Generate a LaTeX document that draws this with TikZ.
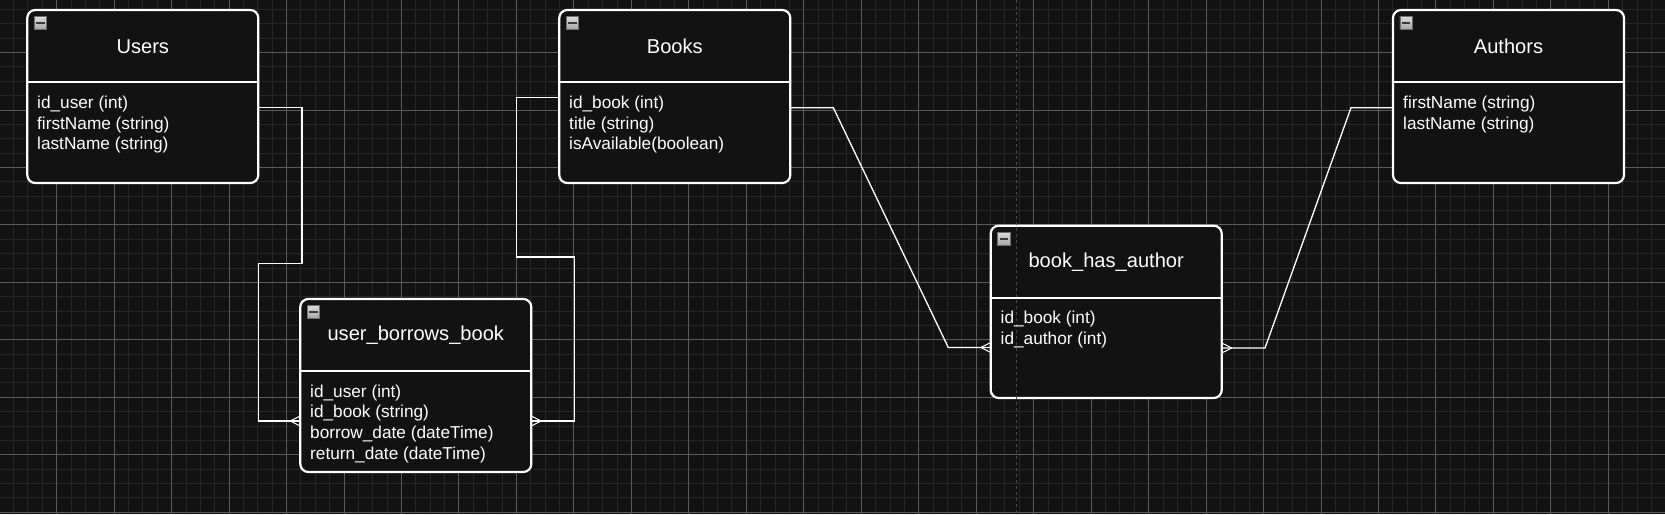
\documentclass[tikz,border=0pt]{standalone}
\usepackage{fontspec}
\setmainfont{Liberation Sans}
\definecolor{bg}{HTML}{121212}
\definecolor{gmin}{HTML}{262626}
\definecolor{gmaj}{HTML}{5A5A5A}
\definecolor{pgbrk}{HTML}{4A4A4A}
\definecolor{icbrd}{HTML}{6E6E6E}
\definecolor{ictop}{HTML}{DADADA}
\definecolor{icbot}{HTML}{A6A6A6}
\definecolor{icbar}{HTML}{3A3A3A}
\tikzset{
  erbox/.style={draw=white, line width=2.2pt, rounded corners=8pt, fill=bg,
    minimum width=231pt, minimum height=173pt, anchor=north west, inner sep=0pt, outer sep=0pt},
  sepline/.style={draw=white, line width=2pt},
  ertitle/.style={text=white, font=\fontsize{20.1}{24}\selectfont, inner sep=0pt},
  erfield/.style={text=white, font=\fontsize{17.24}{20.7}\selectfont, inner sep=0pt,
    anchor=west, text height=12.6pt, text depth=3.6pt},
  conn/.style={draw=white, line width=1.3pt},
  crowline/.style={draw=white, line width=1pt},
  gridminor/.style={draw=gmin, line width=1pt},
  gridmajor/.style={draw=gmaj, line width=1pt},
  pagebreak/.style={draw=pgbrk, line width=1.2pt, dash pattern=on 3pt off 3pt},
  ericon/.style={minimum size=12.5pt, inner sep=0pt, outer sep=0pt, draw=icbrd, line width=0.8pt,
    top color=ictop, bottom color=icbot,
    path picture={\fill[icbar] ([xshift=2pt,yshift=-1.1pt]path picture bounding box.west) rectangle ([xshift=-2pt,yshift=1.1pt]path picture bounding box.east);}},
  erManyL/.pic={\draw[crowline] (-10,0) -- (0,5) (-10,0) -- (0,-5);},
  erManyR/.pic={\draw[crowline] (10,0) -- (0,5) (10,0) -- (0,-5);}
}
\begin{document}
\begin{tikzpicture}[x=1pt,y=-1pt]
\useasboundingbox (0,0) rectangle (1665,514);
\fill[bg] (0,0) rectangle (1665,514);
% grid
\foreach \i in {0,...,116} \draw[gridminor] ({-0.77+14.3675*\i},0) -- ({-0.77+14.3675*\i},514);
\foreach \j in {0,...,36} \draw[gridminor] (0,{-4.94+14.3675*\j}) -- (1665,{-4.94+14.3675*\j});
\foreach \i in {0,...,29} \draw[gridmajor] ({-0.77+57.47*\i},0) -- ({-0.77+57.47*\i},514);
\foreach \j in {0,...,9} \draw[gridmajor] (0,{-4.94+57.47*\j}) -- (1665,{-4.94+57.47*\j});

% boxes
\node[erbox] (users) at (27.3,10) {};
\node[erbox] (books) at (559.3,10) {};
\node[erbox] (authors) at (1393,10) {};
\node[erbox] (ubb) at (300.3,299) {};
\node[erbox, minimum height=172.3pt] (bha) at (990.7,225.7) {};

% connectors
\draw[conn] (users.east |- 0,107.7) -- (302,107.7) -- (302,263.4) -- (258.3,263.4) -- (258.3,421) -- (ubb.west |- 0,421);
\draw[conn] (books.west |- 0,97.3) -- (516.7,97.3) -- (516.7,257) -- (574.3,257) -- (574.3,421) -- (ubb.east |- 0,421);
\draw[conn] (books.east |- 0,107.7) -- (833.3,107.7) -- (948.3,347.5) -- (bha.west |- 0,347.5);
\draw[conn] (authors.west |- 0,107.7) -- (1351,107.7) -- (1265,348) -- (bha.east |- 0,348);
\pic at (ubb.west |- 0,421) {erManyL};
\pic at (ubb.east |- 0,421) {erManyR};
\pic at (bha.west |- 0,347.5) {erManyL};
\pic at (bha.east |- 0,348) {erManyR};

% header separators
\draw[sepline] (users.west |- 0,82) -- (users.east |- 0,82);
\draw[sepline] (books.west |- 0,82) -- (books.east |- 0,82);
\draw[sepline] (authors.west |- 0,82) -- (authors.east |- 0,82);
\draw[sepline] (ubb.west |- 0,371) -- (ubb.east |- 0,371);
\draw[sepline] (bha.west |- 0,297.5) -- (bha.east |- 0,297.5);

% page break line
\draw[pagebreak] (1016.5,0) -- (1016.5,514);

% icons
\node[ericon] (usersI) at (40.5,23) {};
\node[ericon] (booksI) at (572.5,23) {};
\node[ericon] (authorsI) at (1406.2,23) {};
\node[ericon] (ubbI) at (313.5,312) {};
\node[ericon] (bhaI) at (1003.9,238.7) {};

% titles
\node[ertitle] (usersT) at (users.north |- 0,46.5) {Users};
\node[ertitle] (booksT) at (books.north |- 0,46.5) {Books};
\node[ertitle] (authorsT) at (authors.north |- 0,46.5) {Authors};
\node[ertitle] (ubbT) at (ubb.north |- 0,335.5) {user\_borrows\_book};
\node[ertitle] (bhaT) at (bha.north |- 0,262.5) {book\_has\_author};

% fields
\node[erfield] (uF1) at (37,104) {id\_user (int)};
\node[erfield] (uF2) at (37,124.6) {firstName (string)};
\node[erfield] (uF3) at (37,145.2) {lastName (string)};
\node[erfield] (bF1) at (569,104) {id\_book (int)};
\node[erfield] (bF2) at (569,124.6) {title (string)};
\node[erfield] (bF3) at (569,145.2) {isAvailable(boolean)};
\node[erfield] (aF1) at (1403,104) {firstName (string)};
\node[erfield] (aF2) at (1403,124.6) {lastName (string)};
\node[erfield] (ubF1) at (310,392.7) {id\_user (int)};
\node[erfield] (ubF2) at (310,413.3) {id\_book (string)};
\node[erfield] (ubF3) at (310,433.9) {borrow\_date (dateTime)};
\node[erfield] (ubF4) at (310,454.5) {return\_date (dateTime)};
\node[erfield] (bhF1) at (1000.5,319) {id\_book (int)};
\node[erfield] (bhF2) at (1000.5,339.6) {id\_author (int)};
\end{tikzpicture}
\end{document}
